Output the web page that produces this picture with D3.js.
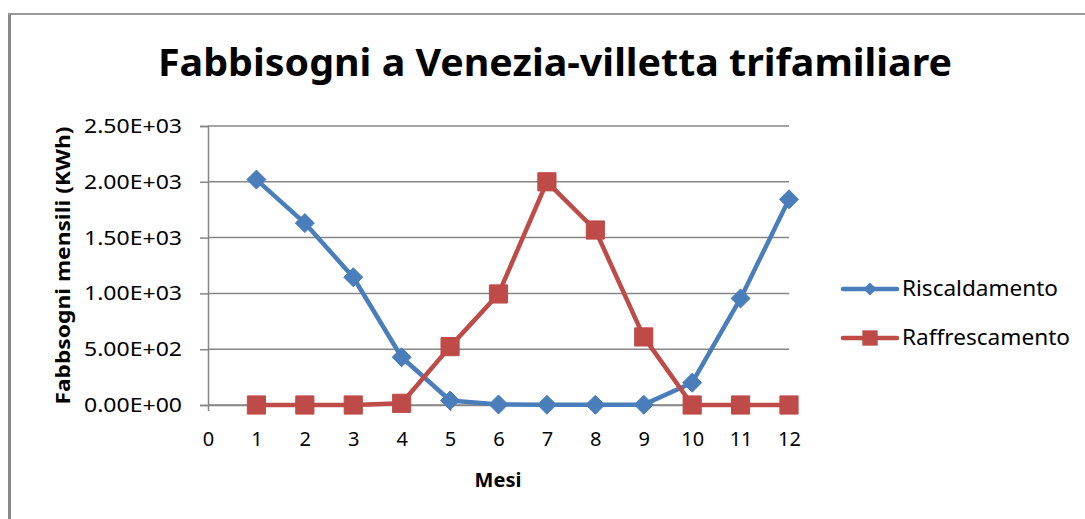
<!DOCTYPE html>
<html>
<head>
<meta charset="utf-8">
<script src="https://cdn.jsdelivr.net/npm/d3@7"></script>
<style>
  body { margin: 0; background: #fff; }
  text { font-family: "Noto Sans", "Open Sans", sans-serif; }
</style>
</head>
<body>
<div id="chart"></div>
<script>
const months = [1, 2, 3, 4, 5, 6, 7, 8, 9, 10, 11, 12]
const riscaldamento = [2020, 1630, 1145, 428, 40, 5, 2, 2, 3, 200, 955, 1843]
const raffrescamento = [0, 0, 0, 15, 523, 995, 2000, 1568, 610, 0, 0, 0]
const yTicks = [0, 500, 1000, 1500, 2000, 2500]
const xTicks = [0, 1, 2, 3, 4, 5, 6, 7, 8, 9, 10, 11, 12]
const seriesNames = ['Riscaldamento', 'Raffrescamento']
const colors = ['#4A7EBB', '#BE4B48']

const W = 1085, H = 519
const svg = d3.select('#chart').append('svg')
  .attr('width', W)
  .attr('height', H)

svg.append('rect').attr('width', W).attr('height', H).attr('fill', '#fff')

// chart border (only left and top visible)
svg.append('line').attr('x1', 9.5).attr('x2', 9.5).attr('y1', 13).attr('y2', H)
  .attr('stroke', '#888').attr('stroke-width', 3)
svg.append('line').attr('x1', 8).attr('x2', W).attr('y1', 14).attr('y2', 14)
  .attr('stroke', '#999').attr('stroke-width', 2)

const x = d3.scaleLinear().domain([0, 12]).range([208, 789])
const y = d3.scaleLinear().domain([0, 2500]).range([405, 126])

const fmt = v => {
  if (v === 0) return '0.00E+00'
  const e = Math.floor(Math.log10(v))
  return (v / Math.pow(10, e)).toFixed(2) + 'E+' + String(e).padStart(2, '0')
}

// gridlines
svg.append('g')
  .selectAll('line')
  .data(yTicks)
  .join('line')
  .attr('x1', x(0)).attr('x2', x(12))
  .attr('y1', d => y(d)).attr('y2', d => y(d))
  .attr('stroke', '#868686').attr('stroke-width', 1.5)

// y axis
const yAxis = svg.append('g')
  .attr('transform', `translate(${x(0)},0)`)
  .call(d3.axisLeft(y).tickValues(yTicks).tickFormat(fmt).tickSize(8).tickPadding(18))
yAxis.select('.domain').attr('stroke', '#868686').attr('stroke-width', 1.5)
yAxis.selectAll('.tick line').attr('stroke', '#868686').attr('stroke-width', 1.5)
yAxis.selectAll('.tick text').attr('font-size', 20).attr('fill', '#000')
  .attr('textLength', 98).attr('lengthAdjust', 'spacingAndGlyphs')
  .style('font-family', '"Noto Sans", sans-serif')

// x axis
const xAxis = svg.append('g')
  .attr('transform', `translate(0,${y(0)})`)
  .call(d3.axisBottom(x).tickValues(xTicks).tickFormat(d3.format('d')).tickSize(6).tickPadding(28).tickSizeOuter(0))
xAxis.select('.domain').attr('stroke', '#868686').attr('stroke-width', 1.5)
xAxis.selectAll('.tick line').attr('stroke', '#868686').attr('stroke-width', 1.5)
xAxis.selectAll('.tick text').attr('font-size', 20).attr('fill', '#000')
  .attr('dy', '0.35em')
  .style('font-family', '"Noto Sans", sans-serif')

// titles
svg.append('text')
  .attr('x', 555).attr('y', 76)
  .attr('text-anchor', 'middle')
  .attr('font-size', 37).attr('font-weight', 'bold')
  .attr('textLength', 794).attr('lengthAdjust', 'spacingAndGlyphs')
  .text('Fabbisogni a Venezia-villetta trifamiliare')

svg.append('text')
  .attr('x', 498).attr('y', 487)
  .attr('text-anchor', 'middle')
  .attr('font-size', 20).attr('font-weight', 'bold')
  .text('Mesi')

svg.append('text')
  .attr('transform', `translate(70,${(y(0) + y(2500)) / 2}) rotate(-90)`)
  .attr('text-anchor', 'middle')
  .attr('font-size', 20).attr('font-weight', 'bold')
  .attr('textLength', 278).attr('lengthAdjust', 'spacingAndGlyphs')
  .text('Fabbsogni mensili (KWh)')

// series
const line = d3.line().x(d => x(d[0])).y(d => y(d[1]))
const series = [riscaldamento, raffrescamento].map(vals => months.map((m, i) => [m, vals[i]]))
const diamond = d3.symbol().type(d3.symbolDiamond2).size(230)
const square = d3.symbol().type(d3.symbolSquare2).size(420)

series.forEach((pts, s) => {
  svg.append('path')
    .datum(pts)
    .attr('d', line)
    .attr('fill', 'none')
    .attr('stroke', colors[s])
    .attr('stroke-width', 4.5)
    .attr('stroke-linejoin', 'round')
  svg.append('g')
    .selectAll('path')
    .data(pts)
    .join('path')
    .attr('transform', d => `translate(${x(d[0])},${y(d[1])})`)
    .attr('d', s === 0 ? diamond : square)
    .attr('fill', colors[s])
    .attr('stroke', colors[s])
    .attr('stroke-width', 1)
})

// legend
const legendY = [289, 338]
seriesNames.forEach((name, s) => {
  const g = svg.append('g').attr('transform', `translate(0,${legendY[s]})`)
  g.append('line').attr('x1', 843).attr('x2', 897)
    .attr('stroke', colors[s]).attr('stroke-width', 4.5).attr('stroke-linecap', 'round')
  g.append('path')
    .attr('transform', 'translate(870,0)')
    .attr('d', s === 0 ? d3.symbol().type(d3.symbolDiamond2).size(110)() : d3.symbol().type(d3.symbolSquare2).size(300)())
    .attr('fill', colors[s])
  g.append('text')
    .attr('x', 902).attr('y', 0).attr('dy', '0.35em')
    .attr('font-size', 21)
    .attr('textLength', s === 0 ? 156 : 168).attr('lengthAdjust', 'spacingAndGlyphs')
    .text(name)
})
</script>
</body>
</html>
